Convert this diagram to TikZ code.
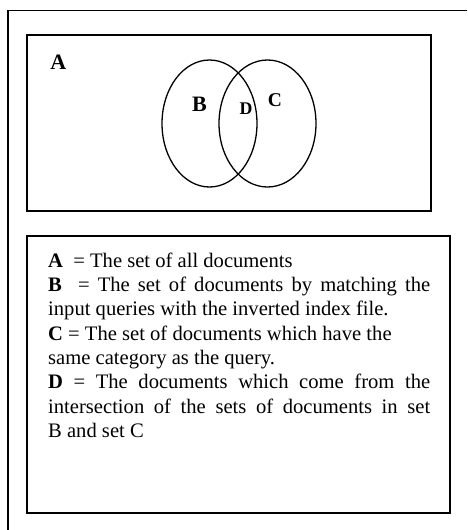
\documentclass[tikz,border=0pt]{standalone}
\usepackage{fontspec}
\setmainfont{Liberation Serif}
\newcommand{\myfullline}[1]{\hbox to 382pt{#1}}
\newcommand{\myleftline}[1]{\hbox to 382pt{#1\hfil}}
\begin{document}
\begin{tikzpicture}[x=1pt,y=-1pt,
  frame/.style={line width=1.2pt},
  box/.style={draw,line width=1.6pt},
  setline/.style={line width=1.3pt},
  setlabel/.style={font=\fontsize{22}{22}\selectfont\bfseries,inner sep=0pt},
  legend/.style={anchor=north west,inner sep=0pt,text width=382pt,align=left,
    font=\fontsize{20.6}{24.3}\selectfont}]
\useasboundingbox (0,0) rectangle (467,530);
% outer frame (open at right and bottom)
\coordinate (o1) at (8,530);
\coordinate (o2) at (8,10.5);
\coordinate (o3) at (467,10.5);
\draw[frame] (o1) -- (o2) -- (o3);
% universe box
\node[box,minimum width=404pt,minimum height=176pt,inner sep=0pt] (univ) at (229,123) {};
\node[setlabel] (la) at (58.3,62.5) {A};
% sets
\draw[setline] (209.5,123.5) ellipse [x radius=47.5, y radius=63.5];
\draw[setline] (267.5,123.5) ellipse [x radius=48.5, y radius=63.5];
\node[setlabel] (lb) at (199.5,104) {B};
\node[setlabel,font=\fontsize{17.8}{18}\selectfont\bfseries] (ld) at (246,108.3) {D};
\node[setlabel,font=\fontsize{19.5}{20}\selectfont\bfseries] (lc) at (275,100) {C};
% legend box
\node[box,minimum width=423pt,minimum height=277pt,inner sep=0pt] (leg) at (238.5,374.5) {};
\node[legend] (txt) at (48,252.6) {\spaceskip=0pt\xspaceskip=0pt\relax
\myleftline{\textbf{A}~ = The set of all documents}
\myfullline{\textbf{B}~ = The set of documents by matching the}
\myleftline{input queries with the inverted index file.}
\myleftline{\textbf{C} = The set of documents which have the}
\myleftline{same category as the query.}
\myfullline{\textbf{D} = The documents which come from the}
\myfullline{intersection of the sets of documents in set}
\myleftline{B and set C}};
\end{tikzpicture}
\end{document}
